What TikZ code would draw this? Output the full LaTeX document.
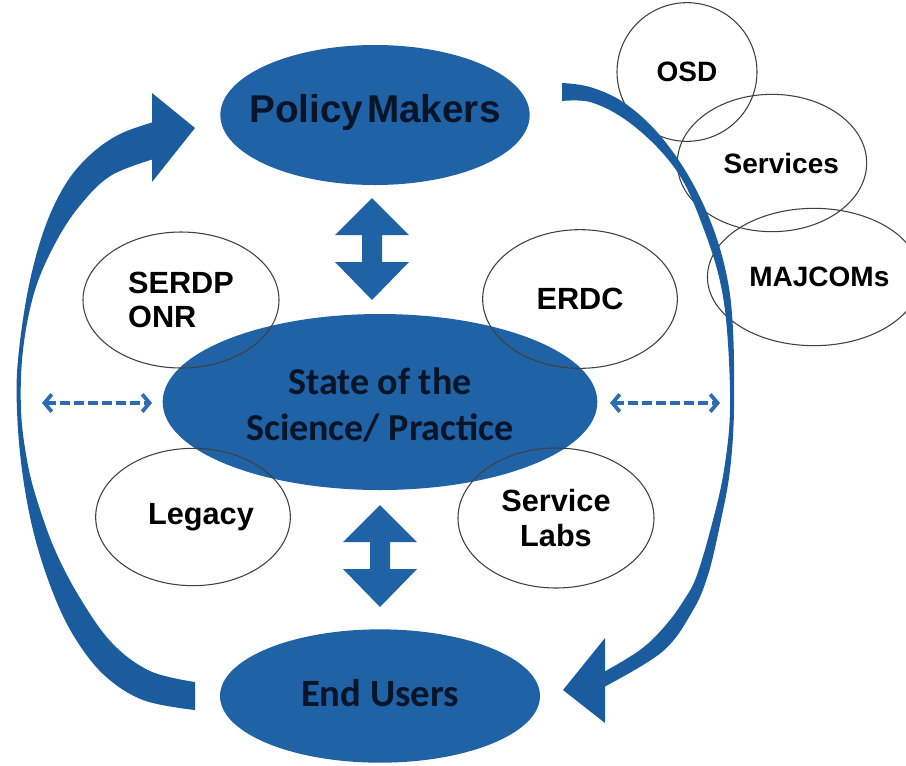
\documentclass[tikz,border=0pt]{standalone}
\usepackage{fontspec}
\setmainfont{Liberation Sans}
\newfontfamily\calfont{Carlito}
\usetikzlibrary{shapes.geometric,arrows.meta}
\definecolor{mainblue}{RGB}{31,98,165}
\definecolor{arcblue}{RGB}{27,92,158}
\definecolor{dashblue}{RGB}{45,108,178}
\definecolor{darktext}{RGB}{8,20,40}
\tikzset{
  bigell/.style={ellipse, fill=mainblue, inner sep=0pt, text=darktext, font=\bfseries},
  smallell/.style={ellipse, draw=black!75, line width=0.8pt, inner sep=0pt, text=black, align=center,
     font=\fontsize{23}{26}\selectfont\bfseries},
  rightell/.style={smallell, font=\fontsize{21}{24}\selectfont\bfseries},
  dasharrow/.style={draw=dashblue, line width=2.8pt, dash pattern=on 7pt off 3.5pt,
     {Straight Barb[length=5.5pt,width=13pt]}-{Straight Barb[length=5.5pt,width=13pt]}},
  blockarrow/.style={fill=mainblue},
  curvearrow/.style={fill=arcblue}
}
\begin{document}
\begin{tikzpicture}[x=0.75pt,y=-0.75pt]
\useasboundingbox (0,0) rectangle (906,765);
\fill[white] (0,0) rectangle (906,765);

% big blue ellipses
\node[bigell, minimum width=232pt, minimum height=105pt] (policy) at (375,115) {};
\node[text=darktext, font=\fontsize{29}{34}\selectfont\bfseries] (policyt) at (375,112) {Policy\hspace{0.1em}Makers};
\node[bigell, minimum width=326pt, minimum height=132pt] (state) at (380,402) {};
\node[text=darktext, align=center, font=\calfont\fontsize{28.5}{34.5}\selectfont\bfseries] (statet) at (380,405) {State of the\\Science/ Practice};
\node[bigell, minimum width=240pt, minimum height=100pt] (endusers) at (380,696) {};
\node[text=darktext, font=\calfont\fontsize{29}{34}\selectfont\bfseries] (endt) at (380,693) {End Users};

% small outlined ellipses
\node[smallell, minimum width=147pt, minimum height=102pt, align=left] (serdp) at (181,300) {SERDP\\ONR};
\node[smallell, minimum width=146pt, minimum height=104pt] (erdc) at (580,299) {ERDC};
\node[smallell, minimum width=146pt, minimum height=103pt] (legacy) at (193,517) {\hspace{12pt}Legacy};
\node[smallell, minimum width=147pt, minimum height=105pt] (labs) at (556,518) {Service\\Labs};
\node[rightell, minimum width=105pt, minimum height=104pt] (osd) at (687,72) {OSD};
\node[rightell, minimum width=129pt, minimum height=103pt] (services) at (772,163) {\hspace{14pt}Services};
\node[rightell, minimum width=136pt, minimum height=103pt] (majcoms) at (814,277) {\hspace{8pt}MAJCOMs};

% vertical double block arrows
\fill[blockarrow] (372,198) -- (409,235) -- (382,235) -- (382,262) -- (409,262) -- (372,300)
   -- (335,262) -- (362,262) -- (362,235) -- (335,235) -- cycle;
\fill[blockarrow] (380,505) -- (417,542) -- (390,542) -- (390,569) -- (417,569) -- (380,607)
   -- (343,569) -- (370,569) -- (370,542) -- (343,542) -- cycle;

% dashed double arrows
\coordinate (dl1) at (42,403);
\coordinate (dl2) at (152,403);
\coordinate (dr1) at (610,403);
\coordinate (dr2) at (720,403);
\draw[dasharrow] (dl1) -- (dl2);
\draw[dasharrow] (dr1) -- (dr2);

% left curved arrow: End Users -> Policy Makers
\fill[curvearrow] plot[smooth, tension=0.6] coordinates {(157,121) (120,134) (90,155) (65,185) (44,230) (28,290) (18,360) (17,410) (22,470) (33,530) (50,585) (72,633) (103,674) (143,700) (195,710)}
  -- plot[smooth, tension=0.6] coordinates {(195,682) (150,671) (112,643) (80,598) (55,550) (37,500) (27,460) (21,410) (23,350) (35,290) (57,240) (82,203) (112,175) (157,158)} -- cycle;
\fill[curvearrow] (152,93) -- (195,128) -- (152,182) -- cycle;

% right curved arrow: Policy Makers -> End Users
\fill[curvearrow] plot[smooth, tension=0.6] coordinates {(562,83) (590,87) (623,102) (657,132) (688,175) (712,225) (727,277) (733,330) (734,410) (730,470) (721,520) (708,575) (692,612) (662,652) (602,688)}
  -- plot[smooth, tension=0.6] coordinates {(602,673) (640,650) (665,626) (684,600) (697,575) (713,520) (724,470) (730,410) (727,330) (719,277) (703,227) (683,181) (657,147) (623,118) (590,102) (562,101)} -- cycle;
\fill[curvearrow] (605,638) -- (563,690) -- (605,723) -- cycle;
\end{tikzpicture}
\end{document}
